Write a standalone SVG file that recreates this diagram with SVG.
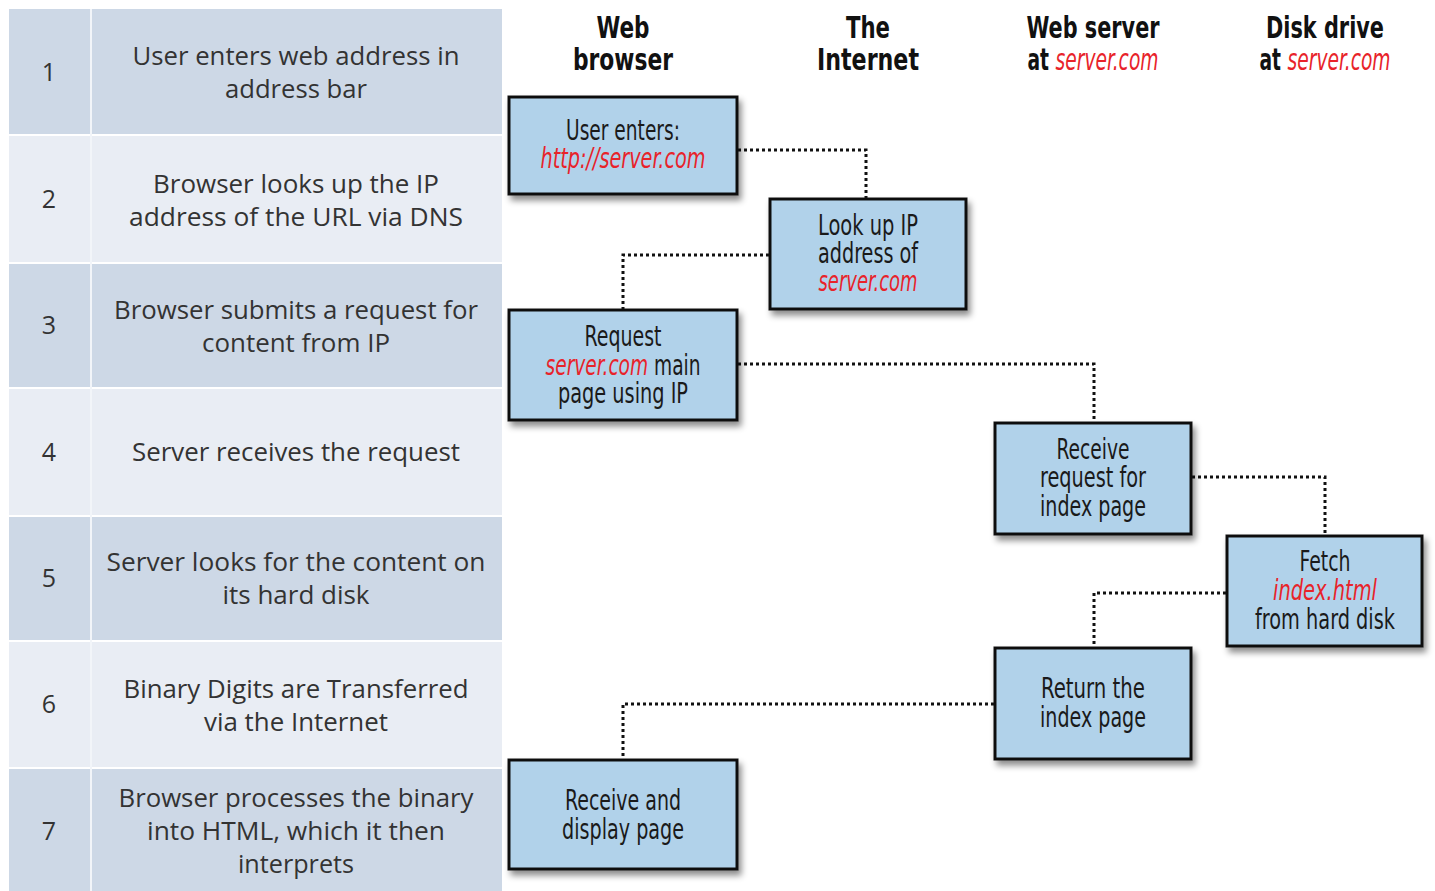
<svg xmlns="http://www.w3.org/2000/svg" width="1435" height="891" viewBox="0 0 1435 891">
<defs>
<filter id="sh" x="-10%" y="-10%" width="130%" height="140%">
<feDropShadow dx="3" dy="5" stdDeviation="3" flood-color="#000" flood-opacity="0.45"/>
</filter>
</defs>
<style>
.rowD{fill:#cdd8e6}
.rowL{fill:#e9edf4}
.tt{font-family:"Open Sans","Noto Sans","Liberation Sans",sans-serif;font-size:25px;fill:#333;text-anchor:middle}
.num{font-family:"Open Sans","Noto Sans","Liberation Sans",sans-serif;font-size:25px;fill:#333;text-anchor:middle}
.hd{font-family:"Liberation Sans Narrow","DejaVu Sans Condensed","Roboto Condensed","Liberation Sans",sans-serif;font-stretch:condensed;font-weight:bold;font-size:31px;fill:#111;text-anchor:middle}
.bx{fill:#b1d2ea;stroke:#111;stroke-width:3}
.bt{font-family:"Liberation Sans Narrow","DejaVu Sans Condensed","Roboto Condensed","Liberation Sans",sans-serif;font-stretch:condensed;font-size:28px;fill:#1a1a1a;text-anchor:middle}
.red{fill:#e8232a;font-style:italic;font-weight:normal}
.con{fill:none;stroke:#111;stroke-width:3;stroke-dasharray:3 3}
</style>
<rect width="1435" height="891" fill="#fff"/>
<g id="table">
<rect class="rowD" x="9" y="9" width="493" height="125"/>
<rect class="rowL" x="9" y="136" width="493" height="126"/>
<rect class="rowD" x="9" y="264" width="493" height="123"/>
<rect class="rowL" x="9" y="389" width="493" height="126"/>
<rect class="rowD" x="9" y="517" width="493" height="123"/>
<rect class="rowL" x="9" y="642" width="493" height="125"/>
<rect class="rowD" x="9" y="769" width="493" height="122"/>
<line x1="91" y1="9" x2="91" y2="891" stroke="#f2f5f9" stroke-width="2"/>
</g>
<g id="row1">
<text class="num" x="49" y="81">1</text>
<text class="tt" x="296" y="65" textLength="327" lengthAdjust="spacingAndGlyphs">User enters web address in</text>
<text class="tt" x="296" y="98" textLength="142" lengthAdjust="spacingAndGlyphs">address bar</text>
</g>
<g id="row2">
<text class="num" x="49" y="208">2</text>
<text class="tt" x="296" y="193" textLength="286" lengthAdjust="spacingAndGlyphs">Browser looks up the IP</text>
<text class="tt" x="296" y="226" textLength="334" lengthAdjust="spacingAndGlyphs">address of the URL via DNS</text>
</g>
<g id="row3">
<text class="num" x="49" y="334">3</text>
<text class="tt" x="296" y="319" textLength="364" lengthAdjust="spacingAndGlyphs">Browser submits a request for</text>
<text class="tt" x="296" y="352" textLength="188" lengthAdjust="spacingAndGlyphs">content from IP</text>
</g>
<g id="row4">
<text class="num" x="49" y="461">4</text>
<text class="tt" x="296" y="461" textLength="328" lengthAdjust="spacingAndGlyphs">Server receives the request</text>
</g>
<g id="row5">
<text class="num" x="49" y="587">5</text>
<text class="tt" x="296" y="571" textLength="379" lengthAdjust="spacingAndGlyphs">Server looks for the content on</text>
<text class="tt" x="296" y="604" textLength="147" lengthAdjust="spacingAndGlyphs">its hard disk</text>
</g>
<g id="row6">
<text class="num" x="49" y="713">6</text>
<text class="tt" x="296" y="698" textLength="345" lengthAdjust="spacingAndGlyphs">Binary Digits are Transferred</text>
<text class="tt" x="296" y="731" textLength="184" lengthAdjust="spacingAndGlyphs">via the Internet</text>
</g>
<g id="row7">
<text class="num" x="49" y="840">7</text>
<text class="tt" x="296" y="807" textLength="355" lengthAdjust="spacingAndGlyphs">Browser processes the binary</text>
<text class="tt" x="296" y="840" textLength="298" lengthAdjust="spacingAndGlyphs">into HTML, which it then</text>
<text class="tt" x="296" y="873" textLength="116" lengthAdjust="spacingAndGlyphs">interprets</text>
</g>
<g id="headers">
<text class="hd" x="623" y="38" textLength="53" lengthAdjust="spacingAndGlyphs">Web</text>
<text class="hd" x="623" y="70" textLength="100" lengthAdjust="spacingAndGlyphs">browser</text>
<text class="hd" x="868" y="38" textLength="44" lengthAdjust="spacingAndGlyphs">The</text>
<text class="hd" x="868" y="70" textLength="102" lengthAdjust="spacingAndGlyphs">Internet</text>
<text class="hd" x="1093" y="38" textLength="133" lengthAdjust="spacingAndGlyphs">Web server</text>
<text class="hd" x="1093" y="70" textLength="131" lengthAdjust="spacingAndGlyphs">at <tspan class="red">server.com</tspan></text>
<text class="hd" x="1325" y="38" textLength="118" lengthAdjust="spacingAndGlyphs">Disk drive</text>
<text class="hd" x="1325" y="70" textLength="131" lengthAdjust="spacingAndGlyphs">at <tspan class="red">server.com</tspan></text>
</g>
<g id="connectors">
<polyline class="con" points="738,150 866,150 866,198"/>
<polyline class="con" points="769,255 623,255 623,309"/>
<polyline class="con" points="738,364 1094,364 1094,422"/>
<polyline class="con" points="1192,477 1325,477 1325,535"/>
<polyline class="con" points="1226,593 1094,593 1094,647"/>
<polyline class="con" points="994,704 623,704 623,759"/>
</g>
<g id="n1">
<rect class="bx" x="509" y="97" width="228" height="97" filter="url(#sh)"/>
<text class="bt" x="623" y="140" textLength="114" lengthAdjust="spacingAndGlyphs">User enters:</text>
<text class="bt" x="623" y="168" textLength="165" lengthAdjust="spacingAndGlyphs"><tspan class="red">http://server.com</tspan></text>
</g>
<g id="n2">
<rect class="bx" x="770" y="199" width="196" height="110" filter="url(#sh)"/>
<text class="bt" x="868" y="235" textLength="100" lengthAdjust="spacingAndGlyphs">Look up IP</text>
<text class="bt" x="868" y="263" textLength="100" lengthAdjust="spacingAndGlyphs">address of</text>
<text class="bt" x="868" y="291" textLength="99" lengthAdjust="spacingAndGlyphs"><tspan class="red">server.com</tspan></text>
</g>
<g id="n3">
<rect class="bx" x="509" y="310" width="228" height="110" filter="url(#sh)"/>
<text class="bt" x="623" y="346" textLength="77" lengthAdjust="spacingAndGlyphs">Request</text>
<text class="bt" x="623" y="375" textLength="155" lengthAdjust="spacingAndGlyphs"><tspan class="red">server.com</tspan> main</text>
<text class="bt" x="623" y="403" textLength="130" lengthAdjust="spacingAndGlyphs">page using IP</text>
</g>
<g id="n4">
<rect class="bx" x="995" y="423" width="196" height="111" filter="url(#sh)"/>
<text class="bt" x="1093" y="459" textLength="73" lengthAdjust="spacingAndGlyphs">Receive</text>
<text class="bt" x="1093" y="487" textLength="106" lengthAdjust="spacingAndGlyphs">request for</text>
<text class="bt" x="1093" y="516" textLength="106" lengthAdjust="spacingAndGlyphs">index page</text>
</g>
<g id="n5">
<rect class="bx" x="1227" y="536" width="195" height="110" filter="url(#sh)"/>
<text class="bt" x="1325" y="571" textLength="51" lengthAdjust="spacingAndGlyphs">Fetch</text>
<text class="bt" x="1325" y="600" textLength="104" lengthAdjust="spacingAndGlyphs"><tspan class="red">index.html</tspan></text>
<text class="bt" x="1325" y="629" textLength="140" lengthAdjust="spacingAndGlyphs">from hard disk</text>
</g>
<g id="n6">
<rect class="bx" x="995" y="648" width="196" height="111" filter="url(#sh)"/>
<text class="bt" x="1093" y="698" textLength="104" lengthAdjust="spacingAndGlyphs">Return the</text>
<text class="bt" x="1093" y="727" textLength="106" lengthAdjust="spacingAndGlyphs">index page</text>
</g>
<g id="n7">
<rect class="bx" x="509" y="760" width="228" height="109" filter="url(#sh)"/>
<text class="bt" x="623" y="810" textLength="116" lengthAdjust="spacingAndGlyphs">Receive and</text>
<text class="bt" x="623" y="839" textLength="122" lengthAdjust="spacingAndGlyphs">display page</text>
</g>
</svg>
